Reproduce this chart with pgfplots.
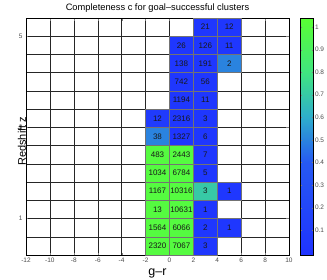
\documentclass[border=0pt]{standalone}
\usepackage{pgfplots}
\pgfplotsset{compat=1.18}
\usepackage{fontspec}
\setmainfont{Liberation Sans}
\pgfplotstableread{
x y c
-2 0.2 1.0
0 0.2 1.0
0 0.6 1.0
-2 0.6 1.0
0 0.2 1.0
2 0.2 1.0
2 0.6 1.0
0 0.6 1.0
2 0.2 0.03
4 0.2 0.03
4 0.6 0.03
2 0.6 0.03
-2 0.6 1.0
0 0.6 1.0
0 1.0 1.0
-2 1.0 1.0
0 0.6 1.0
2 0.6 1.0
2 1.0 1.0
0 1.0 1.0
2 0.6 0.03
4 0.6 0.03
4 1.0 0.03
2 1.0 0.03
4 0.6 0.03
6 0.6 0.03
6 1.0 0.03
4 1.0 0.03
-2 1.0 1.0
0 1.0 1.0
0 1.4 1.0
-2 1.4 1.0
0 1.0 1.0
2 1.0 1.0
2 1.4 1.0
0 1.4 1.0
2 1.0 0.03
4 1.0 0.03
4 1.4 0.03
2 1.4 0.03
-2 1.4 1.0
0 1.4 1.0
0 1.8 1.0
-2 1.8 1.0
0 1.4 1.0
2 1.4 1.0
2 1.8 1.0
0 1.8 1.0
2 1.4 0.7
4 1.4 0.7
4 1.8 0.7
2 1.8 0.7
4 1.4 0.03
6 1.4 0.03
6 1.8 0.03
4 1.8 0.03
-2 1.8 1.0
0 1.8 1.0
0 2.2 1.0
-2 2.2 1.0
0 1.8 1.0
2 1.8 1.0
2 2.2 1.0
0 2.2 1.0
2 1.8 0.03
4 1.8 0.03
4 2.2 0.03
2 2.2 0.03
-2 2.2 1.0
0 2.2 1.0
0 2.6 1.0
-2 2.6 1.0
0 2.2 1.0
2 2.2 1.0
2 2.6 1.0
0 2.6 1.0
2 2.2 0.03
4 2.2 0.03
4 2.6 0.03
2 2.6 0.03
-2 2.6 0.5
0 2.6 0.5
0 3.0 0.5
-2 3.0 0.5
0 2.6 0.02
2 2.6 0.02
2 3.0 0.02
0 3.0 0.02
2 2.6 0.03
4 2.6 0.03
4 3.0 0.03
2 3.0 0.03
-2 3.0 0.08
0 3.0 0.08
0 3.4 0.08
-2 3.4 0.08
0 3.0 0.03
2 3.0 0.03
2 3.4 0.03
0 3.4 0.03
2 3.0 0.03
4 3.0 0.03
4 3.4 0.03
2 3.4 0.03
0 3.4 0.03
2 3.4 0.03
2 3.8 0.03
0 3.8 0.03
2 3.4 0.03
4 3.4 0.03
4 3.8 0.03
2 3.8 0.03
0 3.8 0.03
2 3.8 0.03
2 4.2 0.03
0 4.2 0.03
2 3.8 0.03
4 3.8 0.03
4 4.2 0.03
2 4.2 0.03
0 4.2 0.03
2 4.2 0.03
2 4.6 0.03
0 4.6 0.03
2 4.2 0.03
4 4.2 0.03
4 4.6 0.03
2 4.6 0.03
4 4.2 0.5
6 4.2 0.5
6 4.6 0.5
4 4.6 0.5
0 4.6 0.03
2 4.6 0.03
2 5.0 0.03
0 5.0 0.03
2 4.6 0.03
4 4.6 0.03
4 5.0 0.03
2 5.0 0.03
4 4.6 0.03
6 4.6 0.03
6 5.0 0.03
4 5.0 0.03
2 5.0 0.03
4 5.0 0.03
4 5.4 0.03
2 5.4 0.03
4 5.0 0.03
6 5.0 0.03
6 5.4 0.03
4 5.4 0.03
}\cells
\pgfplotstableread{
x y l
-1 0.4 2320
1 0.4 7067
3 0.4 3
-1 0.8 1564
1 0.8 6066
3 0.8 2
5 0.8 1
-1 1.2 13
1 1.2 10631
3 1.2 1
-1 1.6 1167
1 1.6 10316
3 1.6 3
5 1.6 1
-1 2.0 1034
1 2.0 6784
3 2.0 5
-1 2.4 483
1 2.4 2443
3 2.4 7
-1 2.8 38
1 2.8 1327
3 2.8 6
-1 3.2 12
1 3.2 2316
3 3.2 3
1 3.6 1194
3 3.6 11
1 4.0 742
3 4.0 56
1 4.4 138
3 4.4 191
5 4.4 2
1 4.8 26
3 4.8 126
5 4.8 11
3 5.2 21
5 5.2 12
}\labels
\begin{document}
\begin{tikzpicture}
\useasboundingbox (-26pt,-24pt) rectangle (301pt,255pt);
\begin{axis}[
  at={(0pt,0pt)}, anchor=south west,
  scale only axis, width=263pt, height=237pt,
  xmin=-12, xmax=10, ymin=0.2, ymax=5.4,
  xtick={-12,-10,-8,-6,-4,-2,0,2,4,6,8,10},
  ytick={1,3,5},
  minor ytick={0.6,1.4,1.8,2.2,2.6,3.4,3.8,4.2,4.6},
  grid=both,
  major grid style={black!85, line width=0.4pt},
  minor grid style={black!85, line width=0.4pt},
  tick align=inside, major tick length=2.5pt, minor tick length=0pt,
  /pgf/number format/assume math mode=true,
  ticklabel style={font=\fontsize{6.5}{6.5}\selectfont, text=black!70},
  xticklabel style={yshift=1pt},
  title={Completeness c for goal–successful clusters},
  title style={font=\fontsize{9.3}{10}\selectfont, at={(0.5,1)}, anchor=base, yshift=1.5pt},
  xlabel={g–r},
  xlabel style={font=\fontsize{12.5}{12.5}\selectfont, at={(0.5,0)}, anchor=base, yshift=-20.5pt},
  ylabel={Redshift z},
  ylabel style={font=\fontsize{11}{11}\selectfont, at={(0,0.52)}, anchor=base, xshift=-9.5pt},
  colormap={bg}{rgb(0pt)=(0.12,0.2,1) rgb(41pt)=(0.15,0.35,0.95) rgb(61pt)=(0.18,0.68,0.8) rgb(81pt)=(0.25,0.9,0.5) rgb(105pt)=(0.35,1,0.2)},
  point meta min=-0.01, point meta max=1.04,
  colorbar,
  colorbar style={
    at={(parent axis.north east)}, anchor=north west, xshift=2.5pt,
    scale only axis, width=13pt, height=237pt,
    ytick={0.1,0.2,0.3,0.4,0.5,0.6,0.7,0.8,0.9,1},
    yticklabel style={font=\fontsize{6.5}{6.5}\selectfont, text=black!70, xshift=-1.5pt},
    /pgf/number format/assume math mode=true,
    tick align=inside, major tick length=1.5pt,
    yticklabel pos=right,
  },
]
\addplot[patch, patch type=rectangle, shader=faceted, faceted color=black!55, point meta=explicit] table[x=x, y=y, meta=c] {\cells};
\addplot[draw=none, mark=none, point meta=explicit symbolic, nodes near coords, nodes near coords align={center},
  nodes near coords style={anchor=center, font=\fontsize{8}{8}\selectfont, text=black!90, inner sep=0pt}] table[x=x, y=y, meta=l] {\labels};
\end{axis}
\end{tikzpicture}
\end{document}
